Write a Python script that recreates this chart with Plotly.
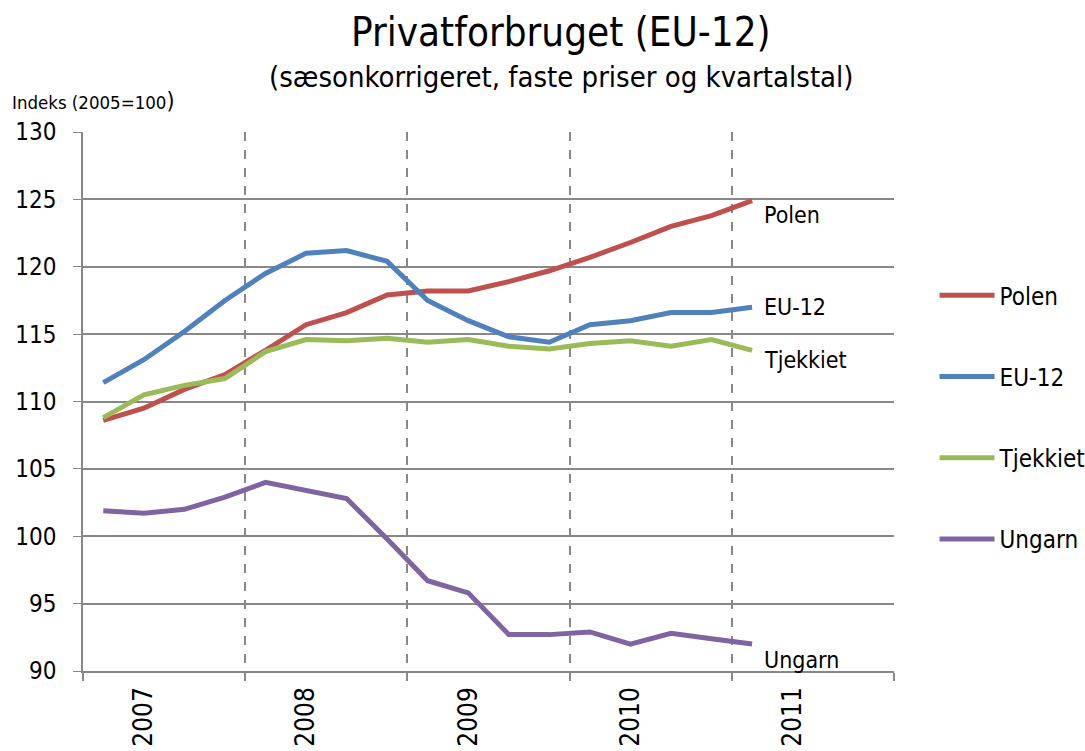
import plotly.graph_objects as go

quarters = [f"{y}K{q}" for y in range(2007, 2012) for q in range(1, 5)][:17]
polen = [108.6, 109.5, 110.9, 112.0, 113.8, 115.7, 116.6, 117.9, 118.2, 118.2, 118.9, 119.7, 120.7, 121.8, 123.0, 123.8, 124.9]
eu12 = [111.4, 113.1, 115.2, 117.5, 119.5, 121.0, 121.2, 120.4, 117.5, 116.0, 114.8, 114.4, 115.7, 116.0, 116.6, 116.6, 117.0]
tjekkiet = [108.8, 110.5, 111.2, 111.7, 113.7, 114.6, 114.5, 114.7, 114.4, 114.6, 114.1, 113.9, 114.3, 114.5, 114.1, 114.6, 113.8]
ungarn = [101.9, 101.7, 102.0, 102.9, 104.0, 103.4, 102.8, 99.8, 96.7, 95.8, 92.7, 92.7, 92.9, 92.0, 92.8, 92.4, 92.0]
years = ["2007", "2008", "2009", "2010", "2011"]

series = [("Polen", polen, "#C0504D", 14), ("EU-12", eu12, "#4F81BD", 0),
          ("Tjekkiet", tjekkiet, "#9BBB59", 10), ("Ungarn", ungarn, "#8064A2", 16)]

FONT = "DejaVu Sans Condensed, DejaVu Sans"
fig = go.Figure()
xs = list(range(len(quarters)))
for i, (name, vals, col, _) in enumerate(series):
    fig.add_trace(go.Scatter(x=xs, y=vals, mode="lines", name=name,
                             line=dict(color=col, width=5), legendgroup=f"g{i}",
                             hovertext=quarters))

annotations = []
for name, vals, col, shift in series:
    annotations.append(dict(x=xs[-1], y=vals[-1], xref="x", yref="y", text=name,
                            showarrow=False, xanchor="left", xshift=10, yshift=-shift,
                            font=dict(family=FONT, size=23, color="black")))
annotations += [
    dict(x=0.59, y=1.0, xref="paper", yref="paper", yanchor="bottom", yshift=75,
         text="Privatforbruget (EU-12)", showarrow=False,
         font=dict(family=FONT, size=40, color="black")),
    dict(x=0.59, y=1.0, xref="paper", yref="paper", yanchor="bottom", yshift=36,
         text="(sæsonkorrigeret, faste priser og kvartalstal)", showarrow=False,
         font=dict(family=FONT, size=29, color="black")),
    dict(x=0, y=1.0, xref="paper", yref="paper", xanchor="left", yanchor="bottom",
         xshift=-73, yshift=16,
         text="Indeks (2005=100<span style='font-size:23px'>)</span>", showarrow=False,
         font=dict(family=FONT, size=18.5, color="black")),
]

fig.update_layout(
    width=1085, height=751,
    margin=dict(l=83, r=191, t=132, b=80, autoexpand=False),
    plot_bgcolor="white", paper_bgcolor="white",
    font=dict(family=FONT, color="black"),
    showlegend=True,
    legend=dict(x=1.050, y=0.738, xanchor="left", yanchor="top", xref="paper",
                font=dict(family=FONT, size=24), tracegroupgap=47,
                itemwidth=55, bgcolor="rgba(0,0,0,0)"),
    annotations=annotations,
)
fig.update_xaxes(range=[-0.5, 19.5], tickvals=[1, 5, 9, 13, 17], ticktext=years,
                 tickangle=-90, ticks="", showgrid=False, zeroline=False,
                 automargin=False,
                 tickfont=dict(family=FONT, size=26), ticklabelstandoff=4,
                 showline=True, linecolor="#888888", linewidth=1.5,
                 minor=dict(tick0=3.5, dtick=4, showgrid=True, griddash="dash",
                            gridcolor="#888888", gridwidth=1.5, ticks="outside",
                            ticklen=8, tickcolor="#888888", tickwidth=1.5))
fig.update_yaxes(range=[90, 130], dtick=5, showgrid=True, gridcolor="#888888",
                 gridwidth=1.5, zeroline=False, showline=True, linecolor="#888888",
                 linewidth=1.5, ticks="outside", ticklen=8, tickcolor="#888888",
                 automargin=False,
                 tickfont=dict(family=FONT, size=24), ticklabelstandoff=12)

fig.write_html("out.html", config={"displayModeBar": False},
               post_script="document.body.style.margin='0';document.body.style.overflow='hidden';")
